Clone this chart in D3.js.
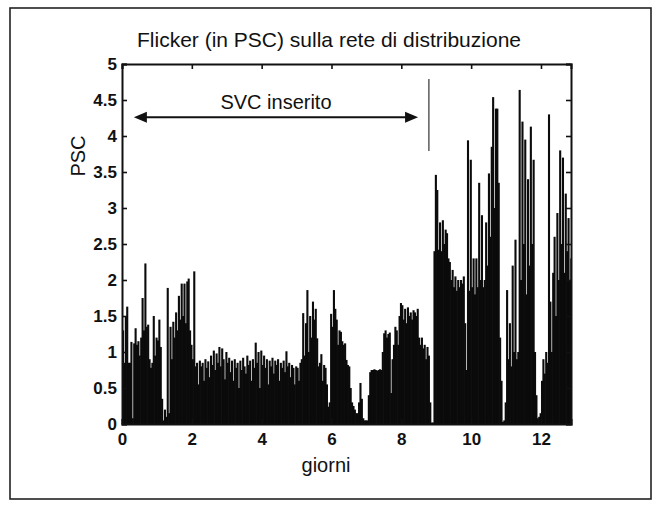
<!DOCTYPE html>
<html><head><meta charset="utf-8">
<script src="https://cdn.jsdelivr.net/npm/d3@7"></script>
<style>body{margin:0;background:#fff}svg text{font-family:"Liberation Sans",Arial,Helvetica,sans-serif;fill:#111}</style>
</head><body><svg id="chart" width="661" height="505"></svg>
<script>
// ---- data ----
const dayStep = 0.04;               // sampling interval of the series, in days
const psc = [
  // day 0
  1.3,0.85,1.49,1.63,0.85,0.85,1.14,0.08,1.12,1.33,1.1,1.15,0.95,1.2,1.75,1.3,2.23,1.35,1.38,0.9,0.78,0.85,1.5,0.95,1.2,
  // day 1
  1.16,1.45,1.07,0.35,0.05,0.2,0.1,1.89,0.15,1.35,0.9,1.42,1.2,1.55,1.3,1.78,1.45,1.95,1.5,1.95,1.4,1.98,2.02,1.3,1.1,
  // day 2
  0.9,2.12,0.8,0.85,0.55,0.88,0.8,0.85,0.6,0.9,0.78,0.87,0.65,0.95,0.82,1.02,0.75,0.98,0.85,1.07,0.8,1.05,0.9,0.62,1.0,
  // day 3
  0.85,0.92,0.72,0.88,0.6,0.9,0.78,0.85,0.5,0.88,0.75,0.92,0.8,0.7,0.95,0.82,0.88,0.6,0.9,0.78,1.13,0.85,1.0,0.5,1.02,
  // day 4
  0.82,0.95,0.78,0.9,0.55,0.88,0.8,0.92,0.7,0.88,0.82,0.9,0.6,0.85,0.78,0.88,0.72,1.01,0.8,0.85,0.65,0.82,0.78,0.55,0.8,
  // day 5
  0.78,0.6,0.85,0.9,1.54,0.95,1.4,1.86,1.0,1.5,1.2,1.7,1.45,1.6,1.19,0.8,0.85,0.97,0.6,0.82,0.78,0.55,0.24,0.3,1.53,
  // day 6
  1.35,1.86,1.6,1.45,1.1,1.3,1.28,1.15,1.1,1.12,0.89,0.82,0.8,0.5,0.3,0.25,0.2,0.15,0.15,0.3,0.57,0.35,0.08,0.05,0.05,
  // day 7
  0.05,0.4,0.72,0.75,0.75,0.76,0.75,0.74,0.75,0.76,0.75,1.0,1.26,1.3,1.2,1.25,1.27,0.43,0.9,1.1,1.35,1.3,1.1,1.5,1.68,
  // day 8
  1.65,1.45,1.6,1.4,1.62,1.5,1.55,1.45,1.58,1.55,1.5,1.6,1.2,1.1,1.2,1.05,1.1,0.9,1.07,0.95,0.3,0.02,0.02,2.4,3.46,
  // day 9
  3.25,2.42,2.8,2.4,2.83,2.5,2.7,2.65,2.3,2.25,2.0,2.14,1.9,2.05,1.85,2.0,1.9,2.0,1.95,2.05,1.4,0.75,3.94,1.85,3.67,
  // day 10
  1.9,2.3,1.8,2.3,1.9,3.35,2.0,2.9,1.9,2.0,2.8,2.2,3.48,2.6,3.85,4.54,3.0,4.38,4.38,3.35,1.2,0.6,0.03,0.05,0.3,
  // day 11
  1.86,0.9,1.4,0.8,2.2,1.0,2.56,0.9,1.0,4.64,2.0,4.2,2.5,3.95,1.8,3.4,2.2,4.13,2.5,3.67,1.0,0.4,0.08,0.1,0.15,
  // day 12
  0.6,0.9,0.7,1.0,0.85,4.3,1.7,1.0,2.1,2.6,1.5,2.93,2.0,3.8,2.5,3.7,2.1,3.2,2.4,2.86,2.0,2.3
];
// isolated trace segment not connected to the baseline
const floatDay = [8.79];
const floatLow = [3.79];
const floatHigh = [4.79];

const xTicks = [0, 2, 4, 6, 8, 10, 12];
const yTicks = [0, 0.5, 1, 1.5, 2, 2.5, 3, 3.5, 4, 4.5, 5];
const yTickLabels = ["0", "0.5", "1", "1.5", "2", "2.5", "3", "3.5", "4", "4.5", "5"];
const xDomain = [0, 12.86];
const yDomain = [0, 5];

// annotation: "SVC inserito" span (days) and level (PSC)
const svcStart = [0.34];
const svcEnd = [8.48];
const svcLevel = [4.26];

const titleText = "Flicker (in PSC) sulla rete di distribuzione";
const xLabel = "giorni";
const yLabel = "PSC";
const svcLabel = "SVC inserito";

// ---- drawing ----
const svg = d3.select("#chart");
const L = 122, R = 571, T = 64, B = 424;
const x = d3.scaleLinear().domain(xDomain).range([L, R]);
const y = d3.scaleLinear().domain(yDomain).range([B, T]);

// outer frame
svg.append("rect").attr("x", 10).attr("y", 8).attr("width", 641).attr("height", 491)
  .attr("fill", "none").attr("stroke", "#222").attr("stroke-width", 1.6);

svg.append("defs").append("clipPath").attr("id", "plotclip")
  .append("rect").attr("x", L).attr("y", T).attr("width", R - L).attr("height", B - T);

const g = svg.append("g").attr("clip-path", "url(#plotclip)");
const bw = x(dayStep) - x(0);
g.selectAll("rect.bar").data(psc).join("rect").attr("class", "bar")
  .attr("x", (d, i) => x(i * dayStep))
  .attr("width", bw + 0.7)
  .attr("y", d => y(d))
  .attr("height", d => y(0) - y(d))
  .attr("fill", "#0b0b0b");

g.selectAll("line.float").data(floatDay).join("line").attr("class", "float")
  .attr("x1", d => x(d)).attr("x2", d => x(d))
  .attr("y1", (d, i) => y(floatLow[i])).attr("y2", (d, i) => y(floatHigh[i]))
  .attr("stroke", "#333").attr("stroke-width", 1.2);

// axes (MATLAB style: ticks inward on all four sides)
const tickLen = 5;
const axB = svg.append("g").attr("transform", `translate(0,${B})`)
  .call(d3.axisBottom(x).tickValues(xTicks).tickSize(-tickLen).tickPadding(9).tickFormat(d3.format("d")));
const axT = svg.append("g").attr("transform", `translate(0,${T})`)
  .call(d3.axisTop(x).tickValues(xTicks).tickSize(-tickLen).tickFormat(""));
const axL = svg.append("g").attr("transform", `translate(${L},0)`)
  .call(d3.axisLeft(y).tickValues(yTicks).tickSize(-tickLen).tickPadding(5).tickFormat((d, i) => yTickLabels[i]));
const axR = svg.append("g").attr("transform", `translate(${R},0)`)
  .call(d3.axisRight(y).tickValues(yTicks).tickSize(-tickLen).tickFormat(""));
[axB, axT, axL, axR].forEach(a => {
  a.select(".domain").attr("stroke", "#111").attr("stroke-width", 2);
  a.selectAll(".tick line").attr("stroke", "#111").attr("stroke-width", 1.6);
  a.selectAll(".tick text").attr("font-size", 17).attr("font-weight", "bold").attr("fill", "#161616");
});

// title and labels
svg.append("text").attr("x", 329).attr("y", 47).attr("text-anchor", "middle")
  .attr("font-size", 21).text(titleText);
svg.append("text").attr("x", 326).attr("y", 472).attr("text-anchor", "middle")
  .attr("font-size", 20).text(xLabel);
svg.append("text").attr("transform", "translate(85,156) rotate(-90)").attr("text-anchor", "middle")
  .attr("font-size", 20).text(yLabel);

// SVC annotation: double-headed arrow
const ay = y(svcLevel[0]);
const ax1 = x(svcStart[0]), ax2 = x(svcEnd[0]);
const headL = 13, headH = 5.5;
svg.append("line").attr("x1", ax1 + headL - 1).attr("x2", ax2 - headL + 1).attr("y1", ay).attr("y2", ay)
  .attr("stroke", "#111").attr("stroke-width", 2);
svg.append("path").attr("d", `M${ax1},${ay}L${ax1 + headL},${ay - headH}L${ax1 + headL},${ay + headH}Z`).attr("fill", "#111");
svg.append("path").attr("d", `M${ax2},${ay}L${ax2 - headL},${ay - headH}L${ax2 - headL},${ay + headH}Z`).attr("fill", "#111");
svg.append("text").attr("x", (ax1 + ax2) / 2).attr("y", ay - 8).attr("text-anchor", "middle")
  .attr("font-size", 20).text(svcLabel);
</script></body></html>
